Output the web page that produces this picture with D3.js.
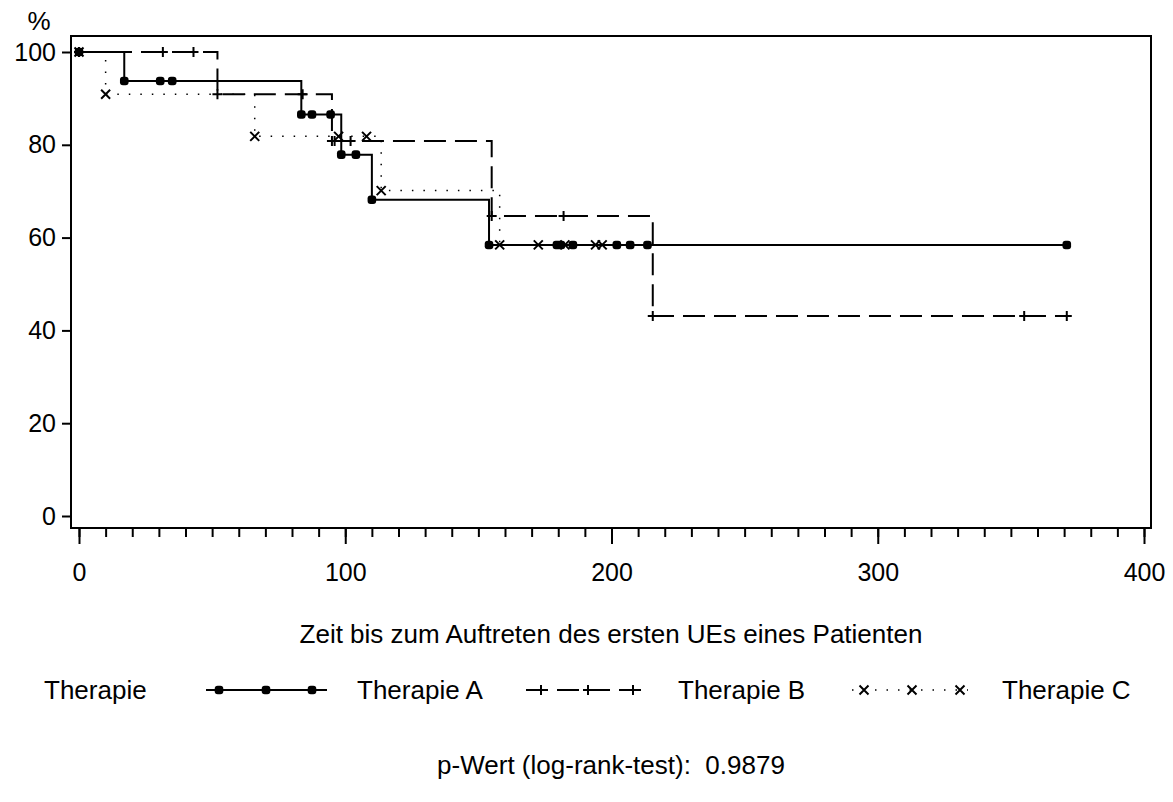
<!DOCTYPE html>
<html>
<head>
<meta charset="utf-8">
<script src="https://cdn.jsdelivr.net/npm/d3@7"></script>
<style>
  html, body { margin: 0; padding: 0; background: #fff; }
  svg text { font-family: "Liberation Sans", Arial, sans-serif; fill: #000; }
</style>
</head>
<body>
<svg id="chart" width="1173" height="802"></svg>
<script>
// Kaplan-Meier estimates (time in days, survival in %), one point per observation
const timesA = [0, 17, 30.5, 35, 83.5, 87.5, 94.5, 98.5, 104, 110, 154, 179.5, 181, 185.5, 202, 207, 213.5, 371];
const survA  = [100, 93.75, 93.75, 93.75, 86.54, 86.54, 86.54, 77.88, 77.88, 68.15, 58.41, 58.41, 58.41, 58.41, 58.41, 58.41, 58.41, 58.41];

const timesB = [0, 31.5, 43, 52, 84, 95, 96, 102, 155, 182, 215.5, 355, 371];
const survB  = [100, 100, 100, 90.91, 90.91, 80.81, 80.81, 80.81, 64.65, 64.65, 43.10, 43.10, 43.10];

const timesC = [0, 10, 66, 97.5, 108, 113.5, 158, 172.5, 182.5, 194, 196.5];
const survC  = [100, 90.91, 81.82, 81.82, 81.82, 70.13, 58.44, 58.44, 58.44, 58.44, 58.44];

const groupNames = ["Therapie A", "Therapie B", "Therapie C"];
const xMajorTicks = [0, 100, 200, 300, 400];
const yTicks = [0, 20, 40, 60, 80, 100];
const xTitle = "Zeit bis zum Auftreten des ersten UEs eines Patienten";
const yTitle = "%";
const legendTitle = "Therapie";
const pValueText = "p-Wert (log-rank-test):  0.9879";

const svg = d3.select("#chart");
const FONT = 26;
const TICK_FONT = 25;

const frame = { left: 71, right: 1151, top: 36, bottom: 528 };
const x = d3.scaleLinear().domain([0, 400]).range([79, 1144]);
const y = d3.scaleLinear().domain([0, 100]).range([516, 52]);

// plot frame
svg.append("rect")
  .attr("x", frame.left).attr("y", frame.top)
  .attr("width", frame.right - frame.left).attr("height", frame.bottom - frame.top)
  .attr("fill", "none").attr("stroke", "#000").attr("stroke-width", 2);

// x axis: minor ticks every 10, major every 100
const xMinor = svg.append("g").attr("transform", `translate(0,${frame.bottom + 1})`)
  .call(d3.axisBottom(x).tickValues(d3.range(0, 401, 10)).tickSize(8).tickFormat(""));
const xMajor = svg.append("g").attr("transform", `translate(0,${frame.bottom + 1})`)
  .call(d3.axisBottom(x).tickValues(xMajorTicks).tickSize(15).tickPadding(19).tickFormat(d3.format("d")));
[xMinor, xMajor].forEach(g => {
  g.select(".domain").remove();
  g.selectAll(".tick line").attr("stroke", "#000").attr("stroke-width", 2);
});
xMajor.selectAll(".tick text").attr("font-size", TICK_FONT).style("font-family", "Liberation Sans, Arial, sans-serif");

// y axis
const yAxis = svg.append("g").attr("transform", `translate(${frame.left},0)`)
  .call(d3.axisLeft(y).tickValues(yTicks).tickSize(9).tickPadding(6));
yAxis.select(".domain").remove();
yAxis.selectAll(".tick line").attr("stroke", "#000").attr("stroke-width", 2);
yAxis.selectAll(".tick text").attr("font-size", TICK_FONT).style("font-family", "Liberation Sans, Arial, sans-serif");

svg.append("text").attr("x", 39).attr("y", 30).attr("text-anchor", "middle")
  .attr("font-size", FONT).text(yTitle);

// series styles
const series = [
  { name: groupNames[0], t: timesA, s: survA, dash: null, width: 2, marker: "dot" },
  { name: groupNames[1], t: timesB, s: survB, dash: "22,9", width: 2, marker: "plus" },
  { name: groupNames[2], t: timesC, s: survC, dash: "1.5,10", width: 1.5, marker: "cross" }
];

const line = d3.line().curve(d3.curveStepAfter).x(d => x(d[0])).y(d => y(d[1]));

function drawMarker(g, cx, cy, kind) {
  if (kind === "dot") {
    g.append("rect").attr("x", cx - 4.3).attr("y", cy - 4.3).attr("width", 8.6).attr("height", 8.6)
      .attr("rx", 3).attr("fill", "#000");
  } else if (kind === "plus") {
    g.append("path").attr("d", `M${cx - 5},${cy}H${cx + 5}M${cx},${cy - 5}V${cy + 5}`)
      .attr("stroke", "#000").attr("stroke-width", 2).attr("fill", "none");
  } else {
    g.append("path").attr("d", `M${cx - 4.5},${cy - 4.5}L${cx + 4.5},${cy + 4.5}M${cx - 4.5},${cy + 4.5}L${cx + 4.5},${cy - 4.5}`)
      .attr("stroke", "#000").attr("stroke-width", 2).attr("fill", "none");
  }
}

// draw in reverse so the solid curve sits on top
series.slice().reverse().forEach(sr => {
  const pts = sr.t.map((t, i) => [t, sr.s[i]]);
  const g = svg.append("g");
  g.append("path").datum(pts).attr("d", line)
    .attr("fill", "none").attr("stroke", "#000").attr("stroke-width", sr.width)
    .attr("stroke-dasharray", sr.dash);
  pts.forEach(p => drawMarker(g, x(p[0]), y(p[1]), sr.marker));
});

// axis title
svg.append("text").attr("x", 611).attr("y", 643).attr("text-anchor", "middle")
  .attr("font-size", FONT).text(xTitle);

// legend
const legendY = 690;
svg.append("text").attr("x", 44).attr("y", legendY + 9).attr("font-size", FONT).text(legendTitle);
const legendItems = [
  { x0: 206, x1: 327, marks: [219, 266, 312], textX: 357 },
  { x0: 526, x1: 643, marks: [541, 588, 633], textX: 678 },
  { x0: 852, x1: 968, marks: [864, 912, 960], textX: 1002 }
];
legendItems.forEach((it, i) => {
  const sr = series[i];
  const g = svg.append("g");
  g.append("line").attr("x1", it.x0).attr("x2", it.x1).attr("y1", legendY).attr("y2", legendY)
    .attr("stroke", "#000").attr("stroke-width", sr.width).attr("stroke-dasharray", sr.dash);
  it.marks.forEach(mx => drawMarker(g, mx, legendY, sr.marker));
  svg.append("text").attr("x", it.textX).attr("y", legendY + 9).attr("font-size", FONT).text(sr.name);
});

// test result
svg.append("text").attr("x", 611).attr("y", 774).attr("text-anchor", "middle")
  .attr("font-size", FONT).attr("xml:space", "preserve").style("white-space", "pre").text(pValueText);
</script>
</body>
</html>
